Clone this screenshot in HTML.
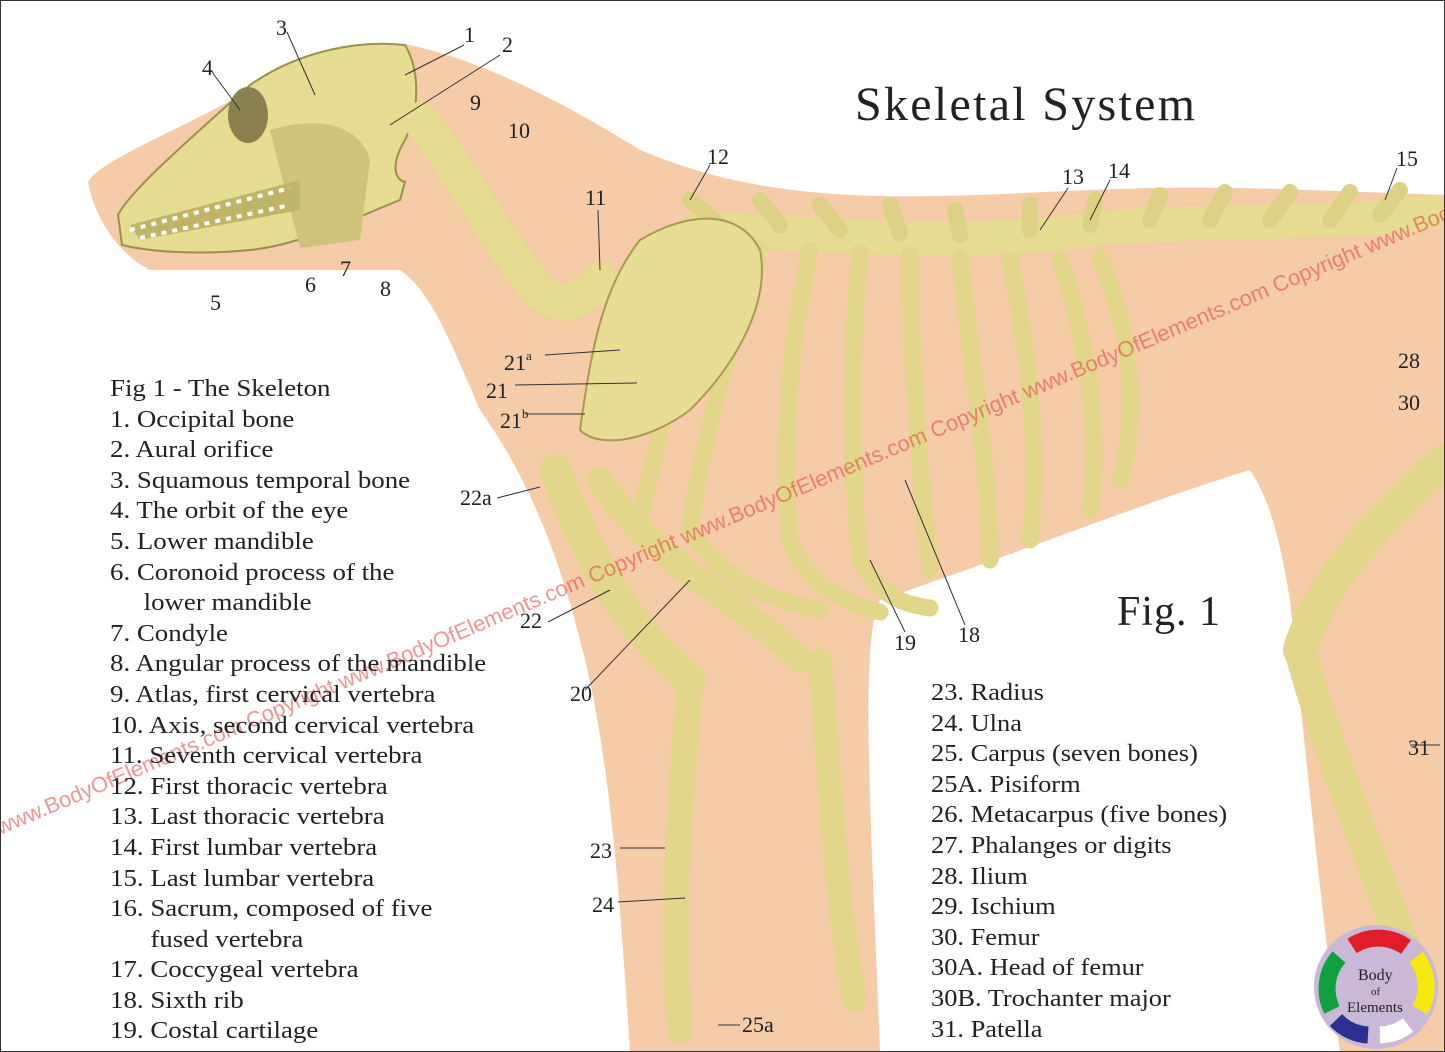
<!DOCTYPE html>
<html><head><meta charset="utf-8"><style>
html,body{margin:0;padding:0;background:#fff}
#c{position:relative;width:1445px;height:1052px;overflow:hidden;background:#fff;font-family:"Liberation Serif",serif}
svg{position:absolute;left:0;top:0}
.l{position:absolute;left:110px;top:374px;font-size:24px;line-height:30.6px;color:#222;white-space:pre;transform:scaleX(1.12);transform-origin:0 0}
.r{position:absolute;left:931px;top:678px;font-size:24px;line-height:30.6px;color:#222;white-space:pre;transform:scaleX(1.1);transform-origin:0 0}
</style></head><body><div id="c">
<svg width="1445" height="1052" viewBox="0 0 1445 1052">
<path fill="#f6cba8" d="M88,182 C100,160 180,130 250,90 C300,55 360,38 410,45 C480,60 560,100 640,150 C700,175 760,190 850,195 C950,200 1050,190 1150,188 C1250,186 1350,192 1445,195 L1445,1052 L1340,1052 C1320,900 1300,700 1290,600 C1280,540 1270,500 1250,470 C1150,500 1000,560 880,600 C860,640 870,800 880,1052 L630,1052 C620,900 610,750 580,640 C560,560 530,480 480,410 C450,340 430,290 400,270 L150,270 C120,255 95,220 88,182 Z"/>
<!-- skull -->
<path fill="#e6dc92" stroke="#9c9050" stroke-width="2" d="M118,215 C130,190 200,130 250,85 C300,50 360,40 405,45 C420,70 420,110 405,140 C390,165 395,180 405,182 L400,200 C350,220 300,245 250,250 C200,255 150,252 122,245 Z"/>
<path fill="#cfc37a" d="M270,130 C320,115 360,125 370,160 L360,240 L300,248 Z"/>
<ellipse cx="248" cy="115" rx="20" ry="28" fill="#8a8050"/>
<path fill="#bfb468" d="M130,225 L300,180 L300,210 L140,240Z"/>
<path fill="none" stroke="#fff" stroke-width="4" stroke-dasharray="5,6" d="M130,230 L290,188 M140,238 L290,205"/>
<!-- neck + spine -->
<path fill="none" stroke="#e6dc92" stroke-width="36" stroke-linecap="round" d="M420,120 C460,170 490,230 530,280 C560,320 580,300 600,280"/>
<path fill="none" stroke="#e6dc92" stroke-width="34" stroke-linecap="round" d="M700,228 C850,238 1000,245 1100,228 C1250,218 1350,225 1430,212"/>
<g stroke="#dcd184" stroke-width="16" stroke-linecap="round">
<path d="M720,225 L690,200 M780,225 L760,200 M840,230 L820,205 M900,233 L890,205 M960,235 L955,210 M1030,230 L1030,205 M1090,225 L1095,200 M1150,220 L1160,195 M1210,220 L1225,192 M1270,220 L1290,192 M1330,220 L1350,192 M1380,215 L1400,190"/>
</g>
<!-- ribs -->
<g fill="none" stroke="#e2d68a" stroke-width="17" stroke-linecap="round">
<path d="M720,250 C680,330 660,430 640,520 C660,570 700,590 740,600"/>
<path d="M760,250 C730,340 700,450 690,530 C720,580 770,600 820,610"/>
<path d="M810,250 C790,340 780,450 790,540 C810,590 850,605 880,612"/>
<path d="M860,252 C850,350 850,460 860,560 C880,600 910,605 930,608"/>
<path d="M910,255 C910,360 920,470 930,570"/>
<path d="M960,258 C970,360 990,470 990,560"/>
<path d="M1010,260 C1030,360 1040,460 1030,540"/>
<path d="M1060,260 C1090,350 1100,440 1090,510"/>
<path d="M1100,258 C1130,330 1140,410 1120,480"/>
</g>
<path fill="#e8dd95" stroke="#a89a55" stroke-width="2" d="M640,240 C690,210 740,210 760,250 C770,300 740,360 690,410 C650,440 600,450 580,430 C590,360 600,290 640,240Z"/>
<g fill="none" stroke="#e2d68a" stroke-linecap="round">
<path stroke-width="32" d="M555,470 C590,560 620,620 690,680"/>
<path stroke-width="26" d="M690,680 C680,800 670,920 680,1030"/>
<path stroke-width="26" d="M600,480 C650,560 740,600 800,660"/>
<path stroke-width="24" d="M820,660 C830,780 835,900 855,1000"/>
<path stroke-width="34" d="M1445,460 C1380,520 1320,580 1300,650"/>
<path stroke-width="32" d="M1300,650 C1330,760 1380,880 1420,990"/>
</g>
<text transform="translate(0,835) rotate(-23)" font-family="Liberation Sans,sans-serif" font-size="22" fill="#e04040" fill-opacity="0.55">www.BodyOfElements.com Copyright www.BodyOfElements.com Copyright www.BodyOfElements.com Copyright www.BodyOfElements.com Copyright www.BodyOfElements</text>
<text x="855" y="120" font-size="48" fill="#222" textLength="340">Skeletal System</text>
<text x="1117" y="625" font-size="42" fill="#222" textLength="103">Fig. 1</text>
<g font-size="22" fill="#222">
<text x="464" y="42">1</text><text x="502" y="52">2</text><text x="276" y="35">3</text><text x="202" y="75">4</text>
<text x="210" y="310">5</text><text x="305" y="292">6</text><text x="340" y="276">7</text><text x="380" y="296">8</text>
<text x="470" y="110">9</text><text x="508" y="138">10</text><text x="585" y="205">11</text><text x="707" y="164">12</text>
<text x="1062" y="184">13</text><text x="1108" y="178">14</text><text x="1396" y="166">15</text>
<text x="504" y="370">21<tspan font-size="13" dy="-10">a</tspan></text><text x="486" y="398">21</text><text x="500" y="428">21<tspan font-size="13" dy="-10">b</tspan></text>
<text x="460" y="505">22a</text><text x="520" y="628">22</text><text x="570" y="701">20</text>
<text x="894" y="650">19</text><text x="958" y="642">18</text><text x="590" y="858">23</text><text x="592" y="912">24</text>
<text x="742" y="1032">25a</text><text x="1398" y="368">28</text><text x="1398" y="410">30</text><text x="1408" y="755">31</text>
</g>
<g stroke="#333" stroke-width="1" fill="none">
<path d="M464,45 L405,75 M500,55 L390,125 M287,32 L315,95 M212,72 L240,110 M545,355 L620,350 M515,385 L637,383 M525,414 L585,414 M497,498 L540,487 M548,622 L610,590 M585,690 L690,580 M905,632 L870,560 M965,625 L905,480 M620,848 L665,848 M618,902 L685,898 M718,1025 L740,1025 M1068,188 L1040,230 M1110,180 L1090,220 M1397,168 L1385,200 M1410,745 L1440,745 M710,165 L690,200 M598,210 L600,270"/>
</g>
<circle cx="1376" cy="987" r="62" fill="#c9b9d6"/>
<g fill="none" stroke-width="17">
<path d="M1339,957 A48,48 0 0 0 1332,1010" stroke="#10a040"/>
<path d="M1352,946 A48,48 0 0 1 1406,947" stroke="#e21d2a"/>
<path d="M1416,957 A48,48 0 0 1 1420,1010" stroke="#f7e90f"/>
<path d="M1408,1025 A48,48 0 0 1 1380,1035" stroke="#fff"/>
<path d="M1368,1035 A48,48 0 0 1 1336,1020" stroke="#2a2f90"/>
</g>
<text x="1358" y="980" font-size="16" fill="#222">Body</text>
<text x="1371" y="995" font-size="11" fill="#222">of</text>
<text x="1347" y="1012" font-size="15" fill="#222">Elements</text>
<rect x="0.5" y="0.5" width="1444" height="1051" fill="none" stroke="#333"/>
</svg>
<div class="l">Fig 1 - The Skeleton
1. Occipital bone
2. Aural orifice
3. Squamous temporal bone
4. The orbit of the eye
5. Lower mandible
6. Coronoid process of the
     lower mandible
7. Condyle
8. Angular process of the mandible
9. Atlas, first cervical vertebra
10. Axis, second cervical vertebra
11. Seventh cervical vertebra
12. First thoracic vertebra
13. Last thoracic vertebra
14. First lumbar vertebra
15. Last lumbar vertebra
16. Sacrum, composed of five
      fused vertebra
17. Coccygeal vertebra
18. Sixth rib
19. Costal cartilage</div>
<div class="r">23. Radius
24. Ulna
25. Carpus (seven bones)
25A. Pisiform
26. Metacarpus (five bones)
27. Phalanges or digits
28. Ilium
29. Ischium
30. Femur
30A. Head of femur
30B. Trochanter major
31. Patella</div>
</div></body></html>
